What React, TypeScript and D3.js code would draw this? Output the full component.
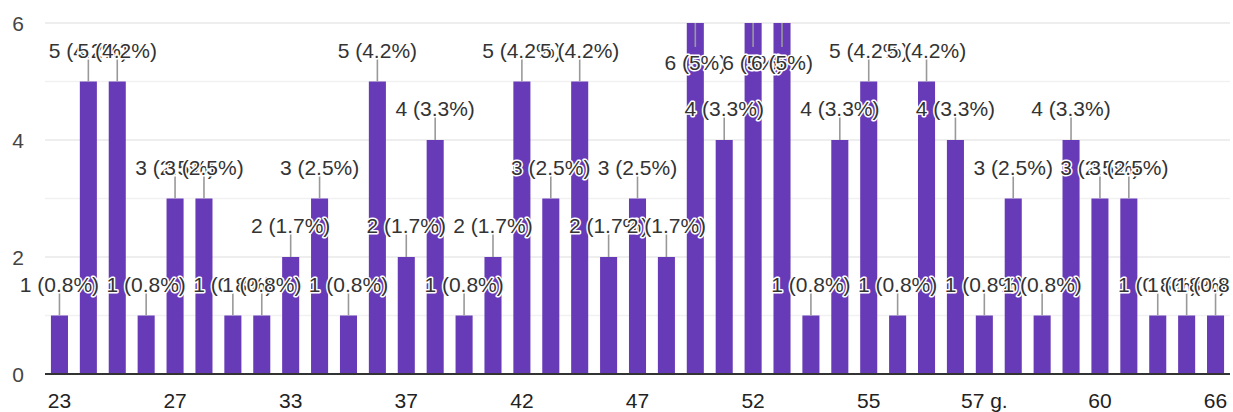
import React, { useEffect, useRef } from "react";
import * as d3 from "d3";

// answers (age), in the order the form lists them
const categories = [
  "23", "24", "25", "26", "27", "28", "30", "31", "33", "34", "35", "36", "37", "38",
  "39", "40", "42", "43", "44", "45", "47", "48", "49", "51", "52", "53", "53 g.", "54",
  "55", "56", "56 g.", "57", "57 g.", "58", "59", "59 g.", "60", "61", "62", "64", "66",
];

// number of responses per answer
const counts = [
  1, 5, 5, 1, 3, 3, 1, 1, 2, 3, 1, 5, 2, 4,
  1, 2, 5, 3, 5, 2, 3, 2, 6, 4, 6, 6, 1, 4,
  5, 1, 5, 4, 1, 3, 1, 4, 3, 3, 1, 1, 1,
];

const yTicks = [0, 2, 4, 6];
const shownLabels = ["23", "27", "33", "37", "42", "47", "52", "55", "57 g.", "60", "66"];

function App() {
  const ref = useRef<SVGSVGElement>(null);

  useEffect(() => {
    const width = 1233,
      height = 412;
    const left = 45,
      right = 1230,
      top = 23,
      bottom = 374;

    const svg = d3.select(ref.current);
    svg.selectAll("*").remove();

    const total = d3.sum(counts);
    const data = categories.map((c, i) => ({ name: c, value: counts[i] }));

    const x = d3.scaleBand<string>()
      .domain(categories)
      .range([left, right])
      .paddingInner(0.41)
      .paddingOuter(0.205);

    const y = d3.scaleLinear().domain([0, 6]).range([bottom, top]);

    // gridlines: every unit, the even ones a bit darker
    svg.append("g")
      .selectAll("line")
      .data(d3.range(1, 7))
      .join("line")
      .attr("x1", left)
      .attr("x2", right)
      .attr("y1", (d) => y(d))
      .attr("y2", (d) => y(d))
      .attr("stroke", (d) => (d % 2 === 0 ? "#e8e8e8" : "#f1f1f1"))
      .attr("stroke-width", 1.5);

    // y labels
    svg.append("g")
      .selectAll("text")
      .data(yTicks)
      .join("text")
      .attr("x", 24)
      .attr("y", (d) => y(d) + 7.5)
      .attr("text-anchor", "end")
      .attr("fill", "#444")
      .style("font-family", "'Liberation Sans', Arial, sans-serif")
      .style("font-size", "21px")
      .text((d) => d);

    // bars
    svg.append("g")
      .selectAll("rect")
      .data(data)
      .join("rect")
      .attr("x", (d) => x(d.name)!)
      .attr("y", (d) => y(d.value))
      .attr("width", x.bandwidth())
      .attr("height", (d) => bottom - y(d.value))
      .attr("fill", "#673ab7");

    // baseline
    svg.append("line")
      .attr("x1", left)
      .attr("x2", right)
      .attr("y1", bottom)
      .attr("y2", bottom)
      .attr("stroke", "#333")
      .attr("stroke-width", 2);

    // x labels (only some are shown)
    svg.append("g")
      .selectAll("text")
      .data(shownLabels)
      .join("text")
      .attr("x", (d) => x(d)! + x.bandwidth() / 2)
      .attr("y", 408)
      .attr("text-anchor", "middle")
      .attr("fill", "#222")
      .style("font-family", "'Liberation Sans', Arial, sans-serif")
      .style("font-size", "21px")
      .text((d) => d);

    // annotations: stem + "n (p%)", placed inside the bar when it hits the top
    svg.append("clipPath")
      .attr("id", "annClip")
      .append("rect")
      .attr("x", 0)
      .attr("y", 0)
      .attr("width", right)
      .attr("height", height);

    const ann = svg.append("g").attr("clip-path", "url(#annClip)");

    data.forEach((d) => {
      const cx = x(d.name)! + x.bandwidth() / 2;
      const yt = y(d.value);
      const inside = d.value >= 6;
      const pct = Math.round((d.value / total) * 1000) / 10;
      const g = ann.append("g");
      g.append("line")
        .attr("x1", cx)
        .attr("x2", cx)
        .attr("y1", yt)
        .attr("y2", inside ? yt + 24 : yt - 23)
        .attr("stroke", "#999")
        .attr("stroke-width", 1.6);
      g.append("text")
        .attr("x", cx)
        .attr("y", inside ? yt + 47 : yt - 24)
        .attr("text-anchor", "middle")
        .attr("fill", "#333")
        .attr("stroke", "#fff")
        .attr("stroke-width", 3)
        .attr("paint-order", "stroke")
        .attr("stroke-linejoin", "round")
        .style("font-family", "'Liberation Sans', Arial, sans-serif")
        .style("font-size", "21px")
        .text(`${d.value} (${pct}%)`);
    });

    svg.attr("width", width).attr("height", height);
  }, []);

  return (
    <svg
      ref={ref}
      width={1233}
      height={412}
      style={{ position: "absolute", left: 0, top: 0, background: "#fff", display: "block" }}
    />
  );
}

export default App;
